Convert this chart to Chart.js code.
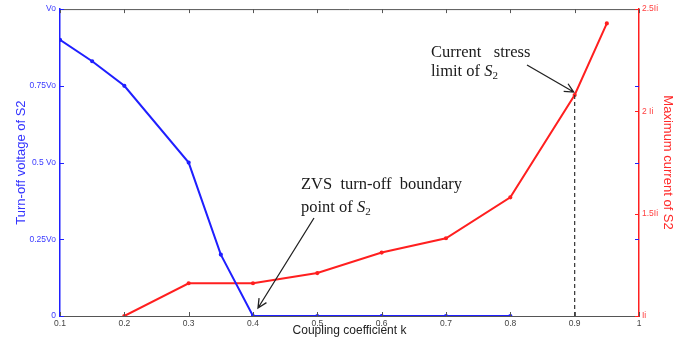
<!DOCTYPE html>
<html>
<head>
<meta charset="utf-8">
<script src="https://cdn.jsdelivr.net/npm/chart.js@4.4.1/dist/chart.umd.min.js"></script>
<style>
  html, body { margin: 0; padding: 0; background: #fff; }
  #wrap { width: 693px; height: 347px; }
</style>
</head>
<body>
<div id="wrap"><canvas id="chart"></canvas></div>
<script>
// coupling coefficient k for each series
const kVoltage = [0.1, 0.15, 0.2, 0.3, 0.35, 0.4, 0.5, 0.6, 0.7, 0.8];
const voltage = [0.9, 0.83, 0.75, 0.5, 0.2, 0, 0, 0, 0, 0];          // x Vo
const kCurrent = [0.2, 0.3, 0.4, 0.5, 0.6, 0.7, 0.8, 0.9, 0.95];
const current = [1.0, 1.16, 1.16, 1.21, 1.31, 1.38, 1.58, 2.08, 2.43]; // x Ii

const xTicks = [0.1, 0.2, 0.3, 0.4, 0.5, 0.6, 0.7, 0.8, 0.9, 1];
const xTickLabels = ['0.1', '0.2', '0.3', '0.4', '0.5', '0.6', '0.7', '0.8', '0.9', '1'];
const vTicks = [0, 0.25, 0.5, 0.75, 1];
const vTickLabels = ['0', '0.25Vo', '0.5 Vo', '0.75Vo', 'Vo'];
const iTicks = [1, 1.5, 2, 2.5];
const iTickLabels = ['Ii', '1.5Ii', '2 Ii', '2.5Ii'];

const limitK = 0.9;   // current stress limit marker
const zvsK = 0.4;     // ZVS boundary point

const BLUE = '#1f1fff';
const RED = '#ff1f1f';
const SERIF = '"Liberation Serif", "Times New Roman", serif';

function toPoints(xs, ys) {
    return xs.map((x, i) => ({ x: x, y: ys[i] }));
}

function setTicks(values) {
    return (scale) => { scale.ticks = values.map((v) => ({ value: v })); };
}

function labelFor(values, labels) {
    return (v) => {
        const i = values.findIndex((t) => Math.abs(t - v) < 1e-6);
        return i === -1 ? '' : labels[i];
    };
}

// draw "prefix S2" with italic S and subscript 2
function drawS2(ctx, prefix, x, y) {
    ctx.font = '16.5px ' + SERIF;
    ctx.fillText(prefix, x, y);
    let w = ctx.measureText(prefix).width;
    ctx.font = 'italic 16.5px ' + SERIF;
    ctx.fillText('S', x + w, y);
    w += ctx.measureText('S').width;
    ctx.font = '11px ' + SERIF;
    ctx.fillText('2', x + w, y + 3);
}

function arrow(ctx, x0, y0, x1, y1) {
    const ang = Math.atan2(y1 - y0, x1 - x0);
    const h = 10;
    ctx.beginPath();
    ctx.moveTo(x0, y0);
    ctx.lineTo(x1, y1);
    ctx.moveTo(x1 - h * Math.cos(ang - 0.45), y1 - h * Math.sin(ang - 0.45));
    ctx.lineTo(x1, y1);
    ctx.lineTo(x1 - h * Math.cos(ang + 0.45), y1 - h * Math.sin(ang + 0.45));
    ctx.stroke();
}

const overlay = {
    id: 'overlay',
    afterDatasetsDraw(chart) {
        const { ctx, scales: { x, y, y1 } } = chart;
        ctx.save();
        // dashed limit line
        const xl = x.getPixelForValue(limitK);
        const yl = y1.getPixelForValue(current[kCurrent.indexOf(limitK)]);
        ctx.strokeStyle = '#333';
        ctx.lineWidth = 1.2;
        ctx.setLineDash([4, 3]);
        ctx.beginPath();
        ctx.moveTo(xl, yl);
        ctx.lineTo(xl, y.getPixelForValue(0));
        ctx.stroke();
        ctx.setLineDash([]);

        // annotations
        ctx.fillStyle = '#1a1a1a';
        ctx.textBaseline = 'alphabetic';
        ctx.font = '16.5px ' + SERIF;
        ctx.fillText('Current   stress', 431, 57);
        drawS2(ctx, 'limit of ', 431, 76);
        ctx.strokeStyle = '#222';
        ctx.lineWidth = 1.3;
        arrow(ctx, 527, 65, xl - 1, yl - 3);

        ctx.font = '16.5px ' + SERIF;
        ctx.fillText('ZVS  turn-off  boundary', 301, 189);
        drawS2(ctx, 'point of ', 301, 212);
        arrow(ctx, 314, 218, x.getPixelForValue(zvsK) + 5, y.getPixelForValue(0) - 8);
        ctx.restore();
    },
    afterDraw(chart) {
        const { ctx, chartArea: a, scales: { x, y, y1 } } = chart;
        const len = 4;
        ctx.save();
        ctx.lineWidth = 1;
        // top frame line
        ctx.strokeStyle = '#555';
        ctx.beginPath();
        ctx.moveTo(a.left, a.top + 0.5);
        ctx.lineTo(a.right, a.top + 0.5);
        ctx.stroke();
        // x ticks, inward on both edges
        ctx.beginPath();
        xTicks.forEach((v) => {
            const px = Math.round(x.getPixelForValue(v)) + 0.5;
            ctx.moveTo(px, a.bottom);
            ctx.lineTo(px, a.bottom - len);
            ctx.moveTo(px, a.top);
            ctx.lineTo(px, a.top + len);
        });
        ctx.stroke();
        // left ticks (blue), mirrored on right edge
        ctx.strokeStyle = BLUE;
        ctx.beginPath();
        vTicks.forEach((v) => {
            const py = Math.round(y.getPixelForValue(v)) + 0.5;
            ctx.moveTo(a.left, py);
            ctx.lineTo(a.left + len, py);
            if (v > 0 && v < 1) {
                ctx.moveTo(a.right, py);
                ctx.lineTo(a.right - len, py);
            }
        });
        ctx.stroke();
        // right ticks (red)
        ctx.strokeStyle = RED;
        ctx.beginPath();
        iTicks.forEach((v) => {
            const py = Math.round(y1.getPixelForValue(v)) + 0.5;
            ctx.moveTo(a.right, py);
            ctx.lineTo(a.right - len, py);
        });
        ctx.stroke();
        ctx.restore();
    }
};

new Chart(document.getElementById('chart'), {
    type: 'line',
    data: {
        datasets: [
            {
                label: 'Turn-off voltage of S2',
                data: toPoints(kVoltage, voltage),
                borderColor: BLUE,
                backgroundColor: BLUE,
                borderWidth: 2,
                pointRadius: 1.1,
                pointHoverRadius: 1.1,
                tension: 0,
                yAxisID: 'y'
            },
            {
                label: 'Maximum current of S2',
                data: toPoints(kCurrent, current),
                borderColor: RED,
                backgroundColor: RED,
                borderWidth: 2,
                pointRadius: 1.1,
                pointHoverRadius: 1.1,
                tension: 0,
                yAxisID: 'y1'
            }
        ]
    },
    options: {
        responsive: true,
        maintainAspectRatio: false,
        animation: false,
        layout: { padding: { top: 9, left: 0, right: 0, bottom: 0 } },
        plugins: {
            legend: { display: false },
            tooltip: { enabled: false }
        },
        scales: {
            x: {
                type: 'linear',
                min: 0.1,
                max: 1,
                afterBuildTicks: setTicks(xTicks),
                afterFit: (s) => { s.height = 31; },
                grid: { drawOnChartArea: false, drawTicks: false },
                border: { display: true, color: '#555', width: 1 },
                ticks: {
                    padding: 3,
                    color: '#444',
                    font: { family: 'Liberation Sans, Arial', size: 8.5 },
                    callback: labelFor(xTicks, xTickLabels)
                },
                title: {
                    display: true,
                    text: 'Coupling coefficient k',
                    color: '#222',
                    font: { family: 'Liberation Sans, Arial', size: 12 },
                    padding: { top: 0, bottom: 9 }
                }
            },
            y: {
                position: 'left',
                min: 0,
                max: 1,
                afterBuildTicks: setTicks(vTicks),
                afterFit: (s) => { s.width = 60; },
                grid: { drawOnChartArea: false, drawTicks: false },
                border: { display: true, color: BLUE, width: 1.5 },
                ticks: {
                    padding: 4,
                    color: '#3a3aff',
                    font: { family: 'Liberation Sans, Arial', size: 8.5 },
                    callback: labelFor(vTicks, vTickLabels)
                },
                title: {
                    display: true,
                    text: 'Turn-off voltage of S2',
                    color: '#3333ff',
                    font: { family: 'Liberation Sans, Arial', size: 13 },
                    padding: { top: 14, bottom: 0 }
                }
            },
            y1: {
                position: 'right',
                min: 1,
                max: 2.5,
                afterBuildTicks: setTicks(iTicks),
                afterFit: (s) => { s.width = 54; },
                grid: { drawOnChartArea: false, drawTicks: false },
                border: { display: true, color: RED, width: 1.5 },
                ticks: {
                    padding: 3,
                    color: '#ff4040',
                    font: { family: 'Liberation Sans, Arial', size: 8.5 },
                    callback: labelFor(iTicks, iTickLabels)
                },
                title: {
                    display: true,
                    text: 'Maximum current of S2',
                    color: '#ff2a2a',
                    font: { family: 'Liberation Sans, Arial', size: 13 },
                    padding: { top: 18, bottom: 0 }
                }
            }
        }
    },
    plugins: [overlay]
});
</script>
</body>
</html>
